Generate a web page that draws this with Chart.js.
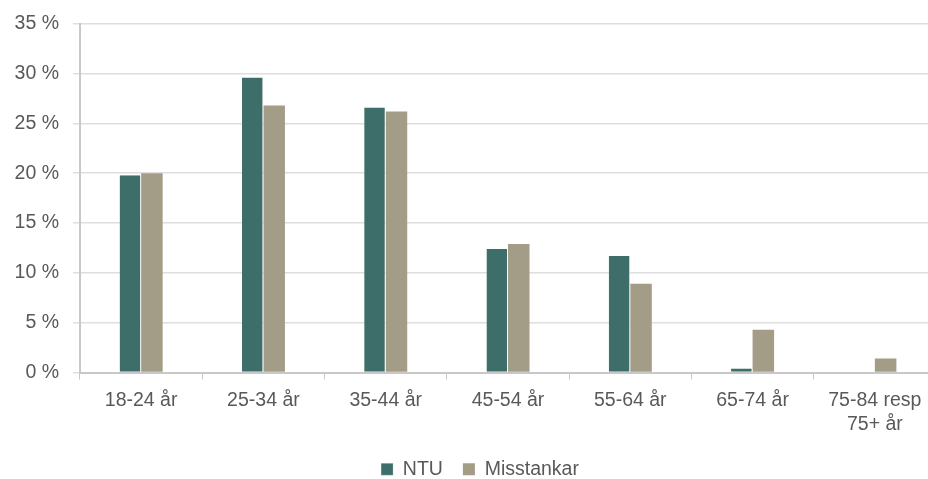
<!DOCTYPE html>
<html>
<head>
<meta charset="utf-8">
<script src="https://cdn.jsdelivr.net/npm/chart.js@4/dist/chart.umd.min.js"></script>
<style>
html,body{margin:0;padding:0;background:#fff;overflow:hidden;}
#wrap{width:960px;height:479px;position:relative;}
</style>
</head>
<body>
<div id="wrap"><canvas id="c" width="960" height="479"></canvas></div>
<script>
const categories = ['18-24 år','25-34 år','35-44 år','45-54 år','55-64 år','65-74 år',['75-84 resp','75+ år']];
const ntu = [19.8, 29.6, 26.6, 12.4, 11.7, 0.4, 0];
const misstankar = [20.0, 26.8, 26.2, 12.9, 8.9, 4.3, 1.4];
const seriesNames = ['NTU','Misstankar'];
const yTicks = [0,5,10,15,20,25,30,35];

const font = {family:'"Liberation Sans", Arial, sans-serif', size:19.5, lineHeight:1.25};
const yFont = {family:'"Liberation Sans", Arial, sans-serif', size:19.5, lineHeight:1.0};
new Chart(document.getElementById('c'), {
  type:'bar',
  data:{
    labels:categories,
    datasets:[
      {label:seriesNames[0], data:ntu, backgroundColor:'#3d6e6a', borderColor:'#ffffff', borderWidth:{right:1}, borderSkipped:'bottom'},
      {label:seriesNames[1], data:misstankar, backgroundColor:'#a39c87', borderColor:'#ffffff', borderWidth:0}
    ]
  },
  options:{
    responsive:false,
    animation:false,
    layout:{padding:{top:8,left:0,right:0,bottom:-10}},
    datasets:{bar:{categoryPercentage:0.352, barPercentage:1}},
    plugins:{
      legend:{position:'bottom', labels:{font:font, color:'#595959', boxWidth:12, boxHeight:12, padding:20}},
      tooltip:{enabled:false}
    },
    scales:{
      x:{
        grid:{display:true, drawOnChartArea:false, drawTicks:true, tickLength:7, color:'#c8c8c8', offset:true},
        border:{color:'#c8c8c8', width:2},
        ticks:{font:font, color:'#595959', padding:9, maxRotation:0, autoSkip:false},
        afterFit:(s)=>{s.height=67;}
      },
      y:{
        min:0, max:35,
        afterBuildTicks:(s)=>{s.ticks = yTicks.map(v=>({value:v}));},
        afterFit:(s)=>{s.width=80;},
        grid:{color:'#dedede', lineWidth:1.5, tickLength:7},
        border:{color:'#c8c8c8', width:2},
        ticks:{font:yFont, color:'#595959', padding:14, callback:(v)=>v+' %'}
      },
      yRight:{
        position:'right', min:0, max:35,
        grid:{display:false}, border:{display:false},
        ticks:{display:false},
        afterFit:(s)=>{s.width=24;}
      }
    }
  }
});
</script>
</body>
</html>
